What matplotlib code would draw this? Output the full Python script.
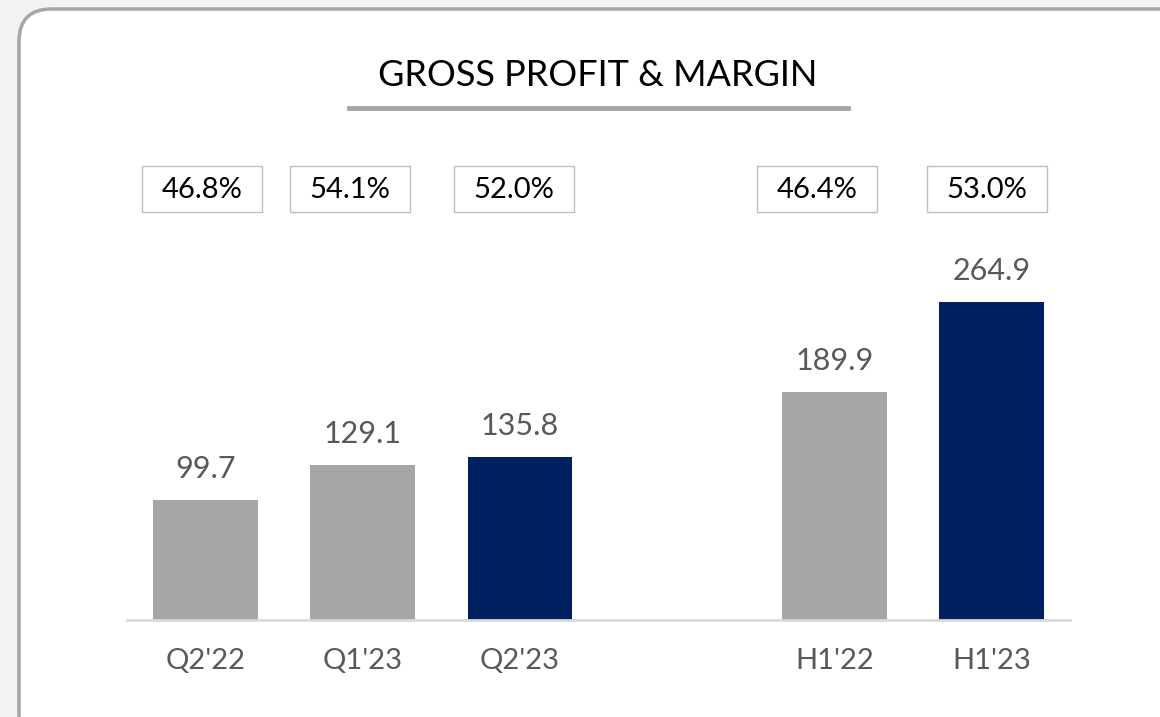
import matplotlib.pyplot as plt
from matplotlib.patches import FancyBboxPatch, Rectangle
from matplotlib.lines import Line2D

# data
periods = ["Q2'22", "Q1'23", "Q2'23", "H1'22", "H1'23"]
gross_profit = [99.7, 129.1, 135.8, 189.9, 264.9]
margins = ["46.8%", "54.1%", "52.0%", "46.4%", "53.0%"]
positions = [0, 1, 2, 4, 5]
bar_colors = ["#a6a6a6", "#a6a6a6", "#002060", "#a6a6a6", "#002060"]

plt.rcParams['font.family'] = ['Lato', 'DejaVu Sans']

W, H = 1160, 717
fig = plt.figure(figsize=(W / 100, H / 100), dpi=100)
fig.patch.set_facecolor("#f2f2f2")

# rounded white panel (behind everything)
panel = FancyBboxPatch((19 / W, -30 / H), 1.2, 1 - 9 / H + 30 / H,
                       boxstyle="round,pad=0,rounding_size=0.028",
                       transform=fig.transFigure, facecolor="white",
                       edgecolor="#a6a6a6", linewidth=2.5, mutation_aspect=W / H,
                       zorder=-10)
fig.patches.append(panel)

# title + underline
fig.text(598 / W, 1 - 75 / H, "GROSS PROFIT & MARGIN", ha="center", va="center",
         fontsize=26, color="black")
fig.lines.append(Line2D([349 / W, 848 / W], [1 - 108 / H, 1 - 108 / H],
                        transform=fig.transFigure, color="#a6a6a6", linewidth=3.5))

ax_left, ax_right = 127 / W, 1070 / W
ax_bottom, ax_top = 1 - 620 / H, 1 - 100 / H
ax = fig.add_axes([ax_left, ax_bottom, ax_right - ax_left, ax_top - ax_bottom])
ax.set_zorder(5)
ax.set_facecolor("none")
ytop = 520 / 1.2
ax.set_xlim(-0.5, 5.5)
ax.set_ylim(0, ytop)

ax.bar(positions, gross_profit, width=0.667, color=bar_colors, zorder=2)
for x, v in zip(positions, gross_profit):
    ax.text(x, v + 26, f"{v:.1f}", ha="center", va="center", fontsize=22, color="#595959")

# margin boxes
box_w = 120 / 157.2
box_lo, box_hi = (620 - 212) / 1.2, (620 - 166) / 1.2
offsets = [-0.02, -0.08, -0.04, -0.11, -0.03]
for x, m, o in zip(positions, margins, offsets):
    ax.add_patch(Rectangle((x + o - box_w / 2, box_lo), box_w, box_hi - box_lo,
                           facecolor="white", edgecolor="#bfbfbf", linewidth=1,
                           clip_on=False))
    ax.text(x + o, (box_lo + box_hi) / 2 - 1, m, ha="center", va="center",
            fontsize=21, color="black")

for s in ["top", "right", "left"]:
    ax.spines[s].set_visible(False)
ax.spines["bottom"].set_color("#d9d9d9")
ax.spines["bottom"].set_linewidth(2)
ax.set_yticks([])
ax.set_xticks(positions)
ax.set_xticklabels(periods, fontsize=21, color="#595959")
ax.tick_params(axis="x", length=0, pad=20)

fig.savefig("out.png", dpi=100, facecolor=fig.get_facecolor())
